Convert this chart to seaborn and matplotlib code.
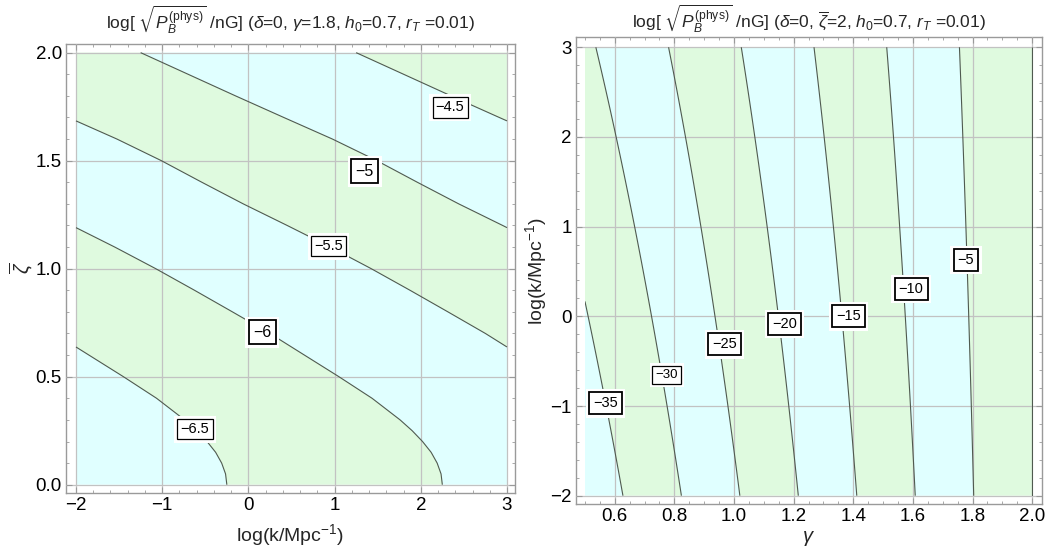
import numpy as np
import matplotlib
matplotlib.use("Agg")
import matplotlib.pyplot as plt
from matplotlib.patches import Rectangle
from matplotlib.ticker import MultipleLocator, FormatStrFormatter
import seaborn as sns

# ---------------- left panel: log B over (log k, zeta_bar), gamma = 1.8 ----------------
logk_span = [-2.0, 3.0]
zeta_span = [0.0, 2.0]
left_levels = [-6.5, -6.0, -5.5, -5.0, -4.5]
left_base = -6.45          # value at log k = 0, zeta_bar = 0
left_logk_slope = 0.2      # change per decade of k
zeta_nodes = [0.0, 0.05, 0.1, 0.15, 0.2, 0.25, 0.3, 0.4, 0.5, 0.6, 0.7, 0.8, 0.9, 1.0,
              1.1, 1.2, 1.3, 1.4, 1.5, 1.6, 1.7, 1.8, 1.9, 2.0]
zeta_term = [0.0, 0.003, 0.012, 0.026, 0.046, 0.070, 0.098, 0.163, 0.240, 0.320, 0.400,
             0.487, 0.575, 0.665, 0.760, 0.860, 0.962, 1.058, 1.152, 1.255, 1.368,
             1.480, 1.590, 1.700]
left_label_xy = [(-0.62, 0.257), (0.16, 0.705), (0.93, 1.104), (1.35, 1.452), (2.34, 1.747)]
left_label_big = [False, True, False, True, False]

# ---------------- right panel: log B over (gamma, log k), zeta_bar = 2 ----------------
gamma_span = [0.5, 2.0]
logk_span_r = [-2.0, 3.0]
right_levels = [-35, -30, -25, -20, -15, -10, -5, 0]
gamma_flat = 2.0           # spectrum index where the field vanishes
logk_pivot = 23.5
right_label_xy = [(0.569, -0.969), (0.774, -0.653), (0.967, -0.313), (1.169, -0.086),
                  (1.384, 0.0), (1.594, 0.305), (1.778, 0.63)]
right_label_big = [True, False, True, True, True, True, True]

GREEN = "#dffadf"
CYAN = "#e0ffff"
LINE = "#4f5a4f"
FRAME = "#9a9a9a"
GRID = "#c2c2c2"

sns.set_theme(style="white")
plt.rcParams.update({
    "font.family": ["Liberation Sans", "DejaVu Sans"],
    "mathtext.fontset": "custom",
    "mathtext.rm": "Liberation Sans",
    "mathtext.it": "Liberation Sans:italic",
    "mathtext.bf": "Liberation Sans:bold",
    "mathtext.fallback": "stixsans",
    "axes.unicode_minus": True,
})

W, H = 1047, 550
fig = plt.figure(figsize=(W / 100, H / 100), dpi=100)
fig.patch.set_facecolor("white")


def px_axes(x0, y0, x1, y1):
    return fig.add_axes([x0 / W, 1 - y1 / H, (x1 - x0) / W, (y1 - y0) / H])


def style_frame(ax, xmaj, xmin, ymaj, ymin):
    ax.set_facecolor("white")
    ax.xaxis.set_major_locator(MultipleLocator(xmaj))
    ax.xaxis.set_minor_locator(MultipleLocator(xmin))
    ax.yaxis.set_major_locator(MultipleLocator(ymaj))
    ax.yaxis.set_minor_locator(MultipleLocator(ymin))
    ax.tick_params(which="both", direction="in", top=True, right=True,
                   bottom=True, left=True, color=FRAME, labelcolor="black",
                   labelsize=13.5, pad=3)
    ax.tick_params(which="major", length=4.5, width=0.8)
    ax.tick_params(which="minor", length=2.5, width=0.6)
    for s in ax.spines.values():
        s.set_color(FRAME)
        s.set_linewidth(1.0)
    ax.set_axisbelow(False)
    ax.grid(True, which="major", color=GRID, lw=0.9)
    ax.grid(False, which="minor")


def boxed_labels(ax, levels, positions, big, fs_big, fs_small):
    for lvl, (x, y), b in zip(levels, positions, big):
        txt = f"{lvl:g}".replace("-", "\u2212")
        fs = fs_big if b else fs_small
        pad = 0.28 if b else 0.22
        ax.text(x, y, txt, ha="center", va="center", fontsize=fs, color="white",
                zorder=5,
                bbox=dict(boxstyle=f"square,pad={pad + 0.22}", fc="white", ec="none"))
        ax.text(x, y, txt, ha="center", va="center", fontsize=fs, color="black",
                zorder=6,
                bbox=dict(boxstyle=f"square,pad={pad}", fc="white", ec="black",
                          lw=1.3 if b else 0.9))


def band_colors(n):
    # the top band is green, bands alternate downwards
    return [GREEN if (n - 1 - i) % 2 == 0 else CYAN for i in range(n)]


# ---------- left ----------
axL = px_axes(66, 44, 515, 492.7)
xs = np.linspace(logk_span[0], logk_span[1], 600)
zs = np.linspace(zeta_span[0], zeta_span[1], 600)
XL, ZL = np.meshgrid(xs, zs)
FL = left_base + left_logk_slope * XL + np.interp(ZL, zeta_nodes, zeta_term)
bounds_L = [-100] + left_levels + [100]
axL.contourf(XL, ZL, FL, levels=bounds_L, colors=band_colors(len(bounds_L) - 1),
             antialiased=True, zorder=1)
axL.contour(XL, ZL, FL, levels=left_levels, colors=LINE, linewidths=0.8,
            linestyles="solid", zorder=3)
boxed_labels(axL, left_levels, left_label_xy, left_label_big, 11.5, 10.5)
axL.set_xlim(-2.116, 3.093)
axL.set_ylim(-0.037, 2.040)
style_frame(axL, 1, 0.2, 0.5, 0.1)
axL.yaxis.set_major_formatter(FormatStrFormatter("%.1f"))
axL.set_xlabel(r"log(k/Mpc$^{-1}$)", fontsize=14)
axL.xaxis.set_label_coords(0.5, -0.066)
axL.set_ylabel(r"$\overline{\zeta}$", fontsize=14.5)
axL.yaxis.set_label_coords(-0.068, 0.5)
fig.text((66 + 515) / 2 / W, 1 - 20 / H,
         r"log[ $\sqrt{P_B^{(\mathrm{phys})}}$ /nG] ($\delta$=0, $\gamma$=1.8, $h_0$=0.7, $r_T$ =0.01)",
         ha="center", va="center", fontsize=12.5)

# ---------- right ----------
axR = px_axes(575.7, 37.3, 1041.7, 504.3)
gs = np.linspace(gamma_span[0], gamma_span[1] + 0.05, 600)
ks = np.linspace(logk_span_r[0], logk_span_r[1], 600)
GR, KR = np.meshgrid(gs, ks)
FR = (GR - gamma_flat) * (logk_pivot - KR)
bounds_R = [-1000] + right_levels
clip = Rectangle((gamma_span[0], logk_span_r[0]), gamma_span[1] - gamma_span[0],
                 logk_span_r[1] - logk_span_r[0], transform=axR.transData)
cf = axR.contourf(GR, KR, FR, levels=bounds_R, colors=band_colors(len(bounds_R) - 1),
                  antialiased=True, zorder=1)
cf.set_clip_path(clip)
cl = axR.contour(GR, KR, FR, levels=right_levels, colors=LINE, linewidths=0.8,
                 linestyles="solid", zorder=3)
cl.set_clip_path(Rectangle((gamma_span[0], logk_span_r[0]),
                           gamma_span[1] - gamma_span[0] + 0.002,
                           logk_span_r[1] - logk_span_r[0], transform=axR.transData))
boxed_labels(axR, right_levels[:-1], right_label_xy, right_label_big, 10.5, 9.5)
axR.set_xlim(0.469, 2.032)
axR.set_ylim(-2.096, 3.111)
style_frame(axR, 0.2, 0.05, 1, 0.2)
axR.xaxis.set_major_formatter(FormatStrFormatter("%.1f"))
axR.set_xlabel(r"$\gamma$", fontsize=14.5)
axR.xaxis.set_label_coords(0.5, -0.053)
axR.set_ylabel(r"log(k/Mpc$^{-1}$)", fontsize=14)
axR.yaxis.set_label_coords(-0.058, 0.5)
fig.text((575.7 + 1041.7) / 2 / W, 1 - 19 / H,
         r"log[ $\sqrt{P_B^{(\mathrm{phys})}}$ /nG] ($\delta$=0, $\overline{\zeta}$=2, $h_0$=0.7, $r_T$ =0.01)",
         ha="center", va="center", fontsize=12.5)

fig.savefig("out.png", dpi=100, facecolor="white")
